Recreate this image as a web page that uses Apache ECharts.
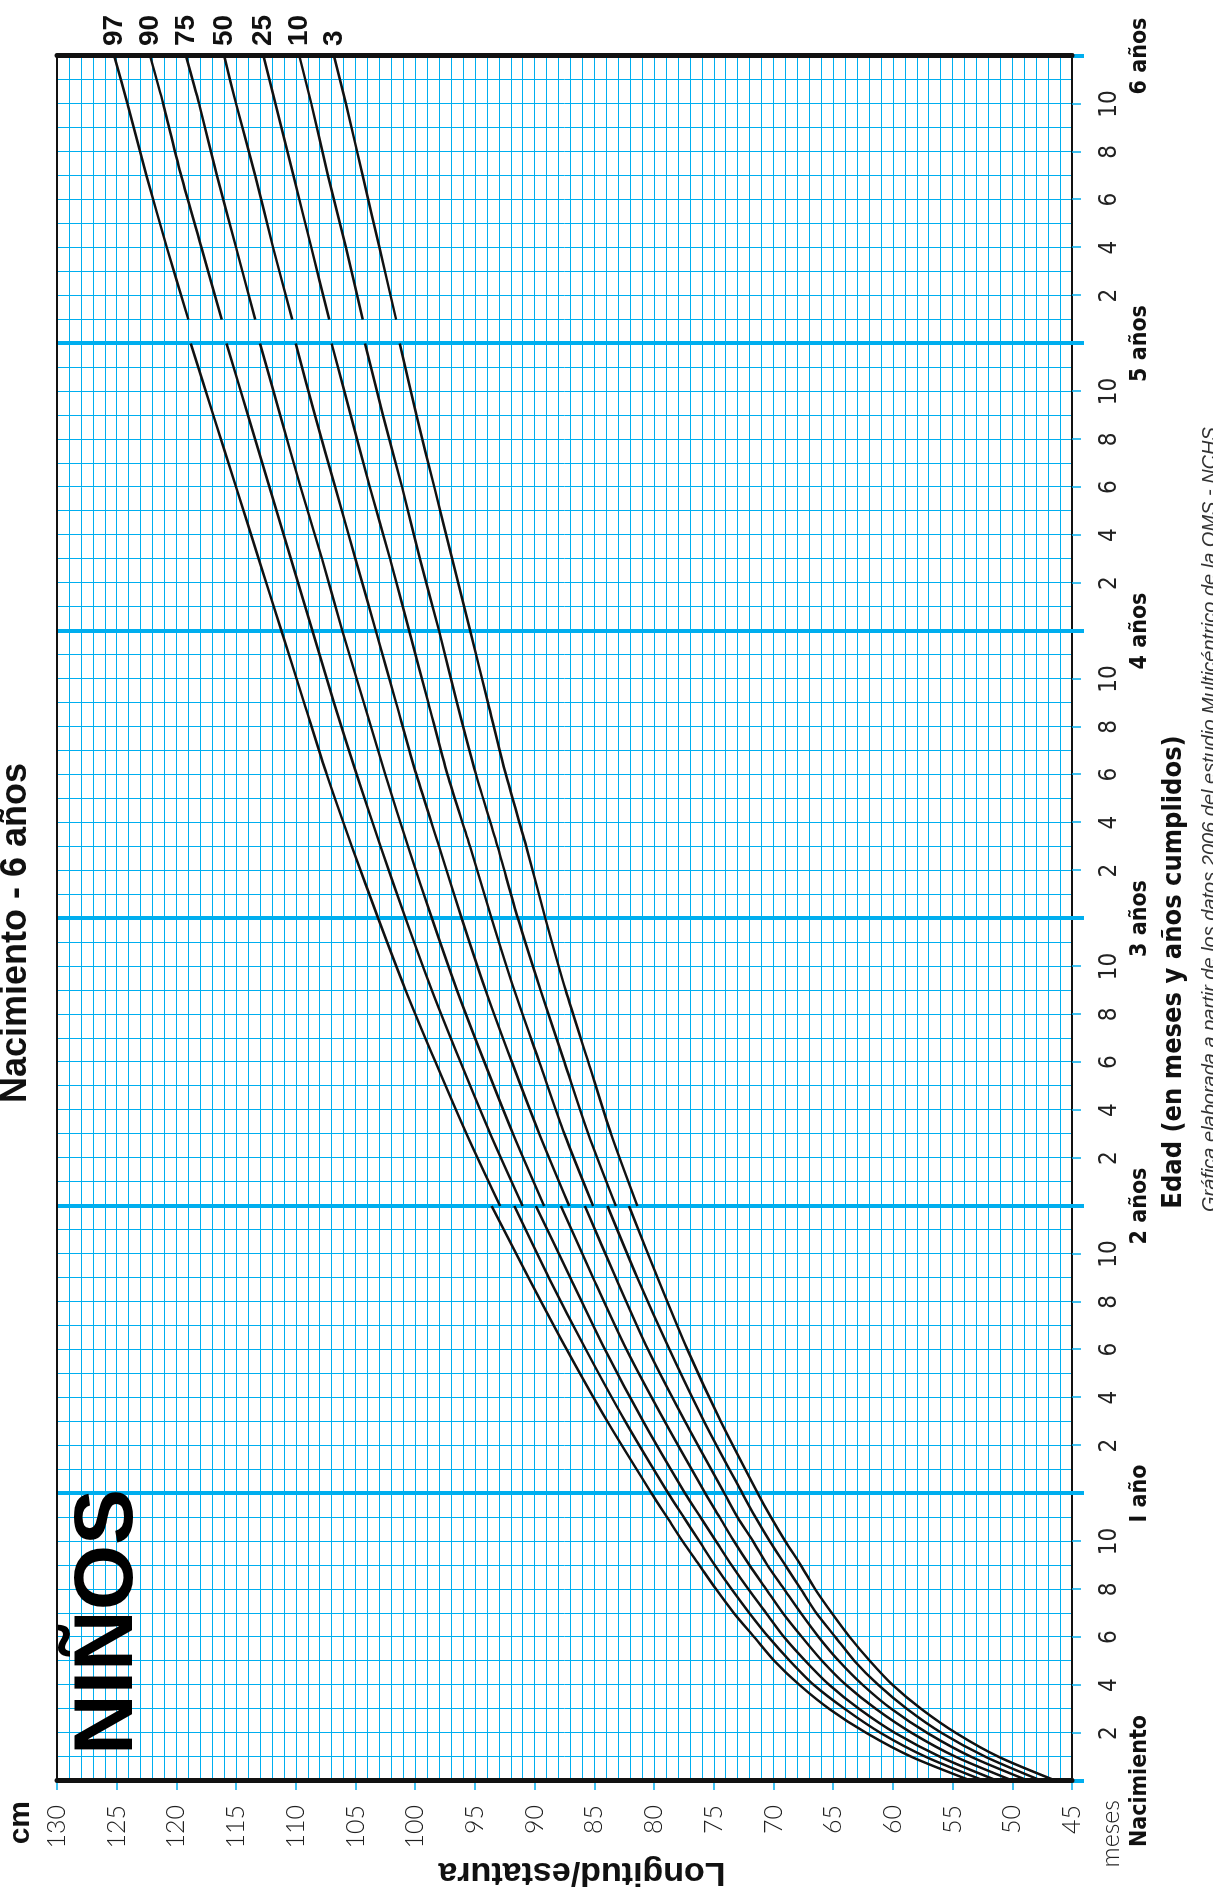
<!DOCTYPE html>
<html>
<head>
<meta charset="utf-8">
<script src="https://cdn.jsdelivr.net/npm/echarts/dist/echarts.min.js"></script>
<style>
html,body{margin:0;padding:0;background:#fff;}
#wrap{position:relative;width:1213px;height:1901px;overflow:hidden;background:#fff;}
#chart{position:absolute;left:0;top:0;width:1901px;height:1213px;transform-origin:0 0;transform:translate(0px,1901px) rotate(-90deg);}
</style>
</head>
<body>
<div id="wrap"><div id="chart"></div></div>
<script>
// ---- data ----
const pctNames = ['97', '90', '75', '50', '25', '10', '3'];

// Birth to 2 years (length), months
const agesLength = [0, 1, 2, 3, 4, 5, 6, 7, 8, 9, 10, 11, 12, 15, 18, 21, 24];
const len97 = [53.4, 58.4, 62.2, 65.3, 67.8, 69.9, 71.6, 73.3, 74.8, 76.2, 77.6, 78.9, 80.2, 83.9, 87.3, 90.5, 93.6];
const len90 = [52.3, 57.2, 61.0, 64.0, 66.6, 68.6, 70.4, 72.0, 73.5, 74.9, 76.2, 77.5, 78.8, 82.4, 85.7, 88.8, 91.7];
const len75 = [51.2, 56.0, 59.8, 62.8, 65.3, 67.3, 69.1, 70.6, 72.1, 73.5, 74.8, 76.1, 77.4, 80.9, 84.1, 87.0, 89.9];
const len50 = [49.9, 54.7, 58.4, 61.4, 63.9, 65.9, 67.6, 69.2, 70.6, 72.0, 73.3, 74.5, 75.7, 79.1, 82.3, 85.1, 87.8];
const len25 = [48.6, 53.4, 57.1, 60.1, 62.5, 64.5, 66.2, 67.7, 69.1, 70.5, 71.7, 73.0, 74.1, 77.4, 80.5, 83.2, 85.8];
const len10 = [47.5, 52.2, 55.9, 58.8, 61.2, 63.2, 64.8, 66.4, 67.7, 69.0, 70.3, 71.5, 72.6, 75.8, 78.7, 81.4, 83.9];
const len3  = [46.3, 51.1, 54.7, 57.6, 60.0, 61.9, 63.6, 65.1, 66.5, 67.7, 69.0, 70.2, 71.3, 74.4, 77.2, 79.7, 82.1];

// 2 to 5 years (height)
const agesHeight = [24, 27, 30, 33, 36, 39, 42, 45, 48, 51, 54, 57, 60];
const hgt97 = [92.9, 95.7, 98.3, 100.8, 103.1, 105.3, 107.4, 109.3, 111.2, 113.1, 115.0, 116.9, 118.8];
const hgt90 = [91.0, 93.7, 96.2, 98.6, 100.8, 102.9, 104.9, 106.8, 108.6, 110.4, 112.2, 114.0, 115.8];
const hgt75 = [89.2, 91.8, 94.2, 96.5, 98.6, 100.6, 102.5, 104.3, 106.1, 107.8, 109.6, 111.3, 113.0];
const hgt50 = [87.1, 89.6, 91.9, 94.1, 96.1, 98.0, 99.9, 101.6, 103.3, 105.0, 106.7, 108.4, 110.0];
const hgt25 = [85.1, 87.5, 89.6, 91.7, 93.6, 95.4, 97.3, 98.9, 100.5, 102.1, 103.8, 105.4, 107.0];
const hgt10 = [83.2, 85.5, 87.5, 89.5, 91.4, 93.1, 94.9, 96.5, 98.0, 99.6, 101.1, 102.7, 104.2];
const hgt3  = [81.4, 83.6, 85.5, 87.4, 89.1, 90.7, 92.4, 93.9, 95.4, 96.9, 98.4, 99.9, 101.3];

// 5 to 6 years
const agesSchool = [61, 64, 67, 70, 72];
const sch97 = [119.0, 120.8, 122.5, 124.1, 125.2];
const sch90 = [116.2, 117.9, 119.6, 121.1, 122.2];
const sch75 = [113.4, 115.0, 116.6, 118.1, 119.2];
const sch50 = [110.3, 111.9, 113.4, 115.0, 116.0];
const sch25 = [107.2, 108.7, 110.2, 111.7, 112.7];
const sch10 = [104.4, 105.8, 107.3, 108.7, 109.7];
const sch3  = [101.6, 103.0, 104.4, 105.8, 106.8];

const yearLabels = ['Nacimiento', 'I año', '2 años', '3 años', '4 años', '5 años', '6 años'];

// ---- build ----
const BLUE = '#00aeef';
const COND = "'Liberation Sans Narrow','DejaVu Sans Condensed','Roboto Condensed','Liberation Sans',sans-serif";
const LIGHT = "'Lato','Liberation Sans',sans-serif";

const segments = [
  { ages: agesLength, vals: [len97, len90, len75, len50, len25, len10, len3] },
  { ages: agesHeight, vals: [hgt97, hgt90, hgt75, hgt50, hgt25, hgt10, hgt3] },
  { ages: agesSchool, vals: [sch97, sch90, sch75, sch50, sch25, sch10, sch3] }
];

const series = [];
pctNames.forEach((name, i) => {
  segments.forEach((seg, s) => {
    const last = s === segments.length - 1;
    series.push({
      type: 'line',
      name: name,
      data: seg.ages.map((a, k) => [a, seg.vals[i][k]]),
      smooth: 0.25,
      showSymbol: false,
      z: 10,
      silent: true,
      lineStyle: { color: '#111', width: 2.5 },
      endLabel: last ? {
        show: true, formatter: '{a}', color: '#111', fontSize: 28, fontWeight: 'bold',
        fontFamily: "'Liberation Sans',sans-serif", distance: 10
      } : { show: false }
    });
  });
});

const chart = echarts.init(document.getElementById('chart'), null, { renderer: 'canvas' });
chart.setOption({
  animation: false,
  backgroundColor: '#fff',
  grid: { left: 120, right: 56, top: 57, bottom: 141, containLabel: false },
  xAxis: [
    { // month grid
      type: 'value', min: 0, max: 72, interval: 1, position: 'bottom', z: 0,
      axisLine: { show: true, onZero: false, lineStyle: { color: '#111', width: 2 } },
      axisTick: { show: false }, axisLabel: { show: false },
      splitLine: { show: true, showMinLine: false, showMaxLine: false, lineStyle: { color: BLUE, width: 1 } }
    },
    { // month labels
      type: 'value', min: 0, max: 72, interval: 2, position: 'bottom', z: 1,
      axisLine: { show: false, onZero: false },
      axisTick: { show: true, length: 9, lineStyle: { color: BLUE, width: 1.5 } },
      axisLabel: {
        show: true, margin: 26, fontSize: 24, color: '#222', fontFamily: COND,
        showMinLabel: true, showMaxLabel: true,
        formatter: v => (v % 12 === 0 ? '' : String(v % 12))
      },
      splitLine: { show: false }
    },
    { // years
      type: 'value', min: 0, max: 72, interval: 12, position: 'bottom', z: 2,
      axisLine: { show: false, onZero: false },
      axisTick: { show: true, length: 12, lineStyle: { color: BLUE, width: 4 } },
      axisLabel: {
        show: true, margin: 57, fontSize: 23, fontWeight: 'bold', color: '#111', fontFamily: COND,
        showMinLabel: true, showMaxLabel: true,
        formatter: v => yearLabels[Math.round(v / 12)]
      },
      splitLine: { show: true, showMinLine: false, showMaxLine: false, lineStyle: { color: BLUE, width: 4 } }
    },
    { // top border (130 cm)
      type: 'value', min: 0, max: 72, position: 'top', z: 3,
      axisLine: { show: true, onZero: false, lineStyle: { color: '#111', width: 2 } },
      axisTick: { show: false }, axisLabel: { show: false }, splitLine: { show: false }
    }
  ],
  yAxis: [
    { // cm grid
      type: 'value', min: 45, max: 130, interval: 1, position: 'left', z: 0,
      axisLine: { show: false }, axisTick: { show: false }, axisLabel: { show: false },
      splitLine: { show: true, showMinLine: false, showMaxLine: false, lineStyle: { color: BLUE, width: 1 } }
    },
    { // cm labels
      type: 'value', min: 45, max: 130, interval: 5, position: 'left', z: 1,
      axisLine: { show: false, onZero: false },
      axisTick: { show: true, length: 9, lineStyle: { color: BLUE, width: 1.5 } },
      axisLabel: { show: true, margin: 24, fontSize: 25, color: '#222', fontFamily: LIGHT, fontWeight: 300 },
      splitLine: { show: false }
    },
    { // birth line
      type: 'value', min: 45, max: 130, position: 'left', z: 4,
      axisLine: { show: true, onZero: false, lineStyle: { color: '#111', width: 5 } },
      axisTick: { show: false }, axisLabel: { show: false }, splitLine: { show: false }
    },
    { // 6 years line
      type: 'value', min: 45, max: 130, position: 'right', z: 4,
      axisLine: { show: true, onZero: false, lineStyle: { color: '#111', width: 5 } },
      axisTick: { show: false }, axisLabel: { show: false }, splitLine: { show: false }
    }
  ],
  graphic: [
    { type: 'text', x: 968, y: 16, z: 20, style: { text: 'Nacimiento - 6 años', fontSize: 36, fontWeight: 'bold', fontFamily: "'Liberation Sans',sans-serif", fill: '#111', align: 'center', verticalAlign: 'middle' } },
    { type: 'text', x: 146, y: 109, z: 20, style: { text: 'NIÑOS', fontSize: 84, fontWeight: 'bold', fontFamily: "'Liberation Sans',sans-serif", fill: '#000', align: 'left', verticalAlign: 'middle' } },
    { type: 'text', x: 100, y: 21, z: 20, style: { text: 'cm', fontSize: 30, fontWeight: 'bold', fontFamily: "'Liberation Sans',sans-serif", fill: '#111', align: 'right', verticalAlign: 'middle' } },
    { type: 'text', x: 101, y: 1111, z: 20, style: { text: 'meses', fontSize: 25, fontFamily: LIGHT, fontWeight: 300, fill: '#222', align: 'right', verticalAlign: 'middle' } },
    { type: 'text', x: 929, y: 1174, z: 20, style: { text: 'Edad (en meses y años cumplidos)', fontSize: 27, fontWeight: 'bold', fontFamily: COND, fill: '#111', align: 'center', verticalAlign: 'middle' } },
    { type: 'text', x: 29, y: 582, rotation: Math.PI / 2, z: 20, style: { text: 'Longitud/estatura', fontSize: 34, fontWeight: 'bold', fontFamily: "'Liberation Sans',sans-serif", fill: '#111', align: 'center', verticalAlign: 'middle' } },
    { type: 'text', x: 689, y: 1210, z: 20, style: { text: 'Gráfica elaborada a partir de los datos 2006 del estudio Multicéntrico de la OMS - NCHS', fontSize: 20, fontStyle: 'italic', fontFamily: "'Liberation Sans',sans-serif", fill: '#333', align: 'left', verticalAlign: 'middle' } }
  ],
  series: series
});
</script>
</body>
</html>
